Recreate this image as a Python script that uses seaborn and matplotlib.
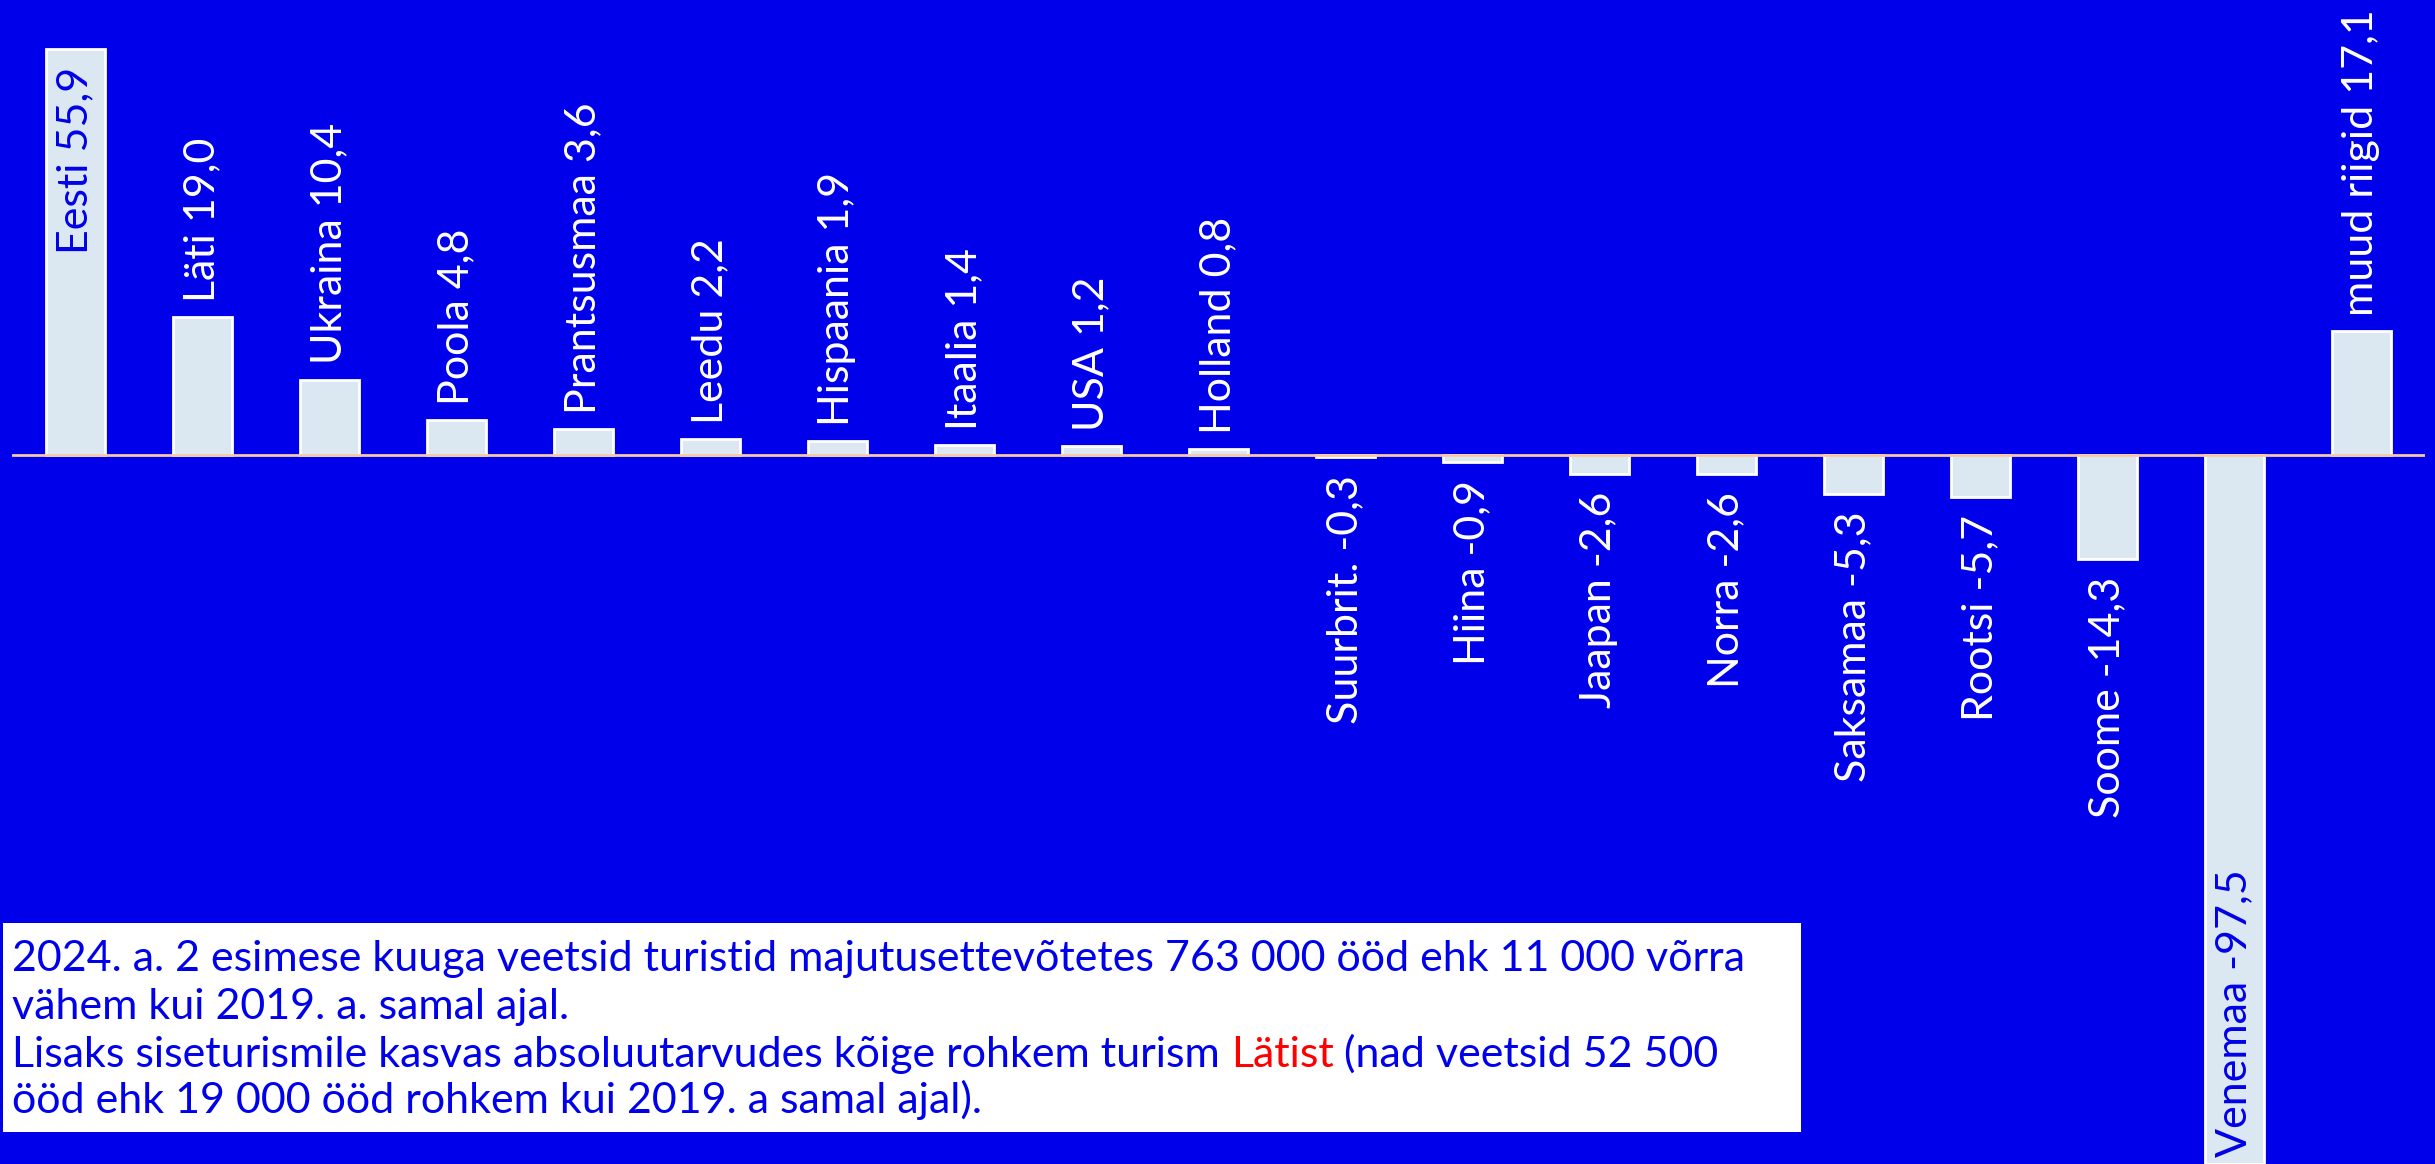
import matplotlib
matplotlib.use("Agg")
import matplotlib.pyplot as plt
import seaborn as sns
import pandas as pd

# data: change in nights spent (thousands), 2024 vs 2019, first 2 months
countries = ["Eesti", "Läti", "Ukraina", "Poola", "Prantsusmaa", "Leedu", "Hispaania",
             "Itaalia", "USA", "Holland", "Suurbrit.", "Hiina", "Jaapan", "Norra",
             "Saksamaa", "Rootsi", "Soome", "Venemaa", "muud riigid"]
change = [55.9, 19.0, 10.4, 4.8, 3.6, 2.2, 1.9, 1.4, 1.2, 0.8,
          -0.3, -0.9, -2.6, -2.6, -5.3, -5.7, -14.3, -97.5, 17.1]

note_lines = [
    "2024. a. 2 esimese kuuga veetsid turistid majutusettevõtetes 763 000 ööd ehk 11 000 võrra",
    "vähem kui 2019. a. samal ajal.",
    "Lisaks siseturismile kasvas absoluutarvudes kõige rohkem turism ",
    "ööd ehk 19 000 ööd rohkem kui 2019. a samal ajal).",
]
note_red = "Lätist"
note_after_red = " (nad veetsid 52 500"

BLUE = "#0000ea"
BAR = "#dce8f1"

df = pd.DataFrame({"country": countries, "change": change})

sns.set_style("white")
plt.rcParams["font.family"] = ["Lato", "DejaVu Sans"]

fig = plt.figure(figsize=(24.35, 11.64), dpi=100)
fig.patch.set_facecolor(BLUE)
ax = fig.add_axes([12 / 2435, 0, 2413 / 2435, 1])
ax.set_facecolor(BLUE)

sns.barplot(data=df, x="country", y="change", order=countries, color=BAR,
            saturation=1, width=0.465, edgecolor="white", linewidth=2, ax=ax)
ax.axhline(0, color="#f6c9a6", lw=2, zorder=5)

ax.set_xlim(-0.5, len(countries) - 0.5)
ax.set_ylim(-97.5, 62.6)
ax.axis("off")

# bar labels
lfs = 31
for i, (name, val) in enumerate(zip(countries, change)):
    label = name + " " + f"{val:.1f}".replace(".", ",")
    if abs(val) > 50:
        # long bars get the label inside
        if val > 0:
            ax.annotate(label, (i, val), xytext=(0, -13), textcoords="offset points",
                        rotation=90, ha="center", va="top", color=BLUE, fontsize=lfs)
        else:
            ax.annotate(label, (i, -97.5), xytext=(0, 5), textcoords="offset points",
                        rotation=90, ha="center", va="bottom", color=BLUE, fontsize=lfs)
    elif val > 0:
        ax.annotate(label, (i, val), xytext=(0, 11), textcoords="offset points",
                    rotation=90, ha="center", va="bottom", color="white", fontsize=lfs)
    else:
        ax.annotate(label, (i, val), xytext=(0, -13), textcoords="offset points",
                    rotation=90, ha="center", va="top", color="white", fontsize=lfs)

# note box
W, H = 2435, 1164
fig.patches.append(plt.Rectangle((3 / W, 1 - 1132 / H), 1798 / W, 209 / H,
                                 transform=fig.transFigure, facecolor="white",
                                 edgecolor="none", zorder=10))
baselines = [971, 1019, 1067, 1113]
fs = 31
renderer = fig.canvas.get_renderer()
for k, (line, yb) in enumerate(zip(note_lines, baselines)):
    t = fig.text(12 / W, 1 - yb / H, line, color=BLUE, fontsize=fs,
                 va="baseline", ha="left", zorder=11)
    if k == 2:
        ext = t.get_window_extent(renderer)
        t2 = fig.text(ext.x1 / W, 1 - yb / H, note_red, color="#ff0000", fontsize=fs,
                      va="baseline", ha="left", zorder=11)
        ext2 = t2.get_window_extent(renderer)
        fig.text(ext2.x1 / W, 1 - yb / H, note_after_red, color=BLUE, fontsize=fs,
                 va="baseline", ha="left", zorder=11)

fig.savefig("out.png", dpi=100, facecolor=BLUE)
